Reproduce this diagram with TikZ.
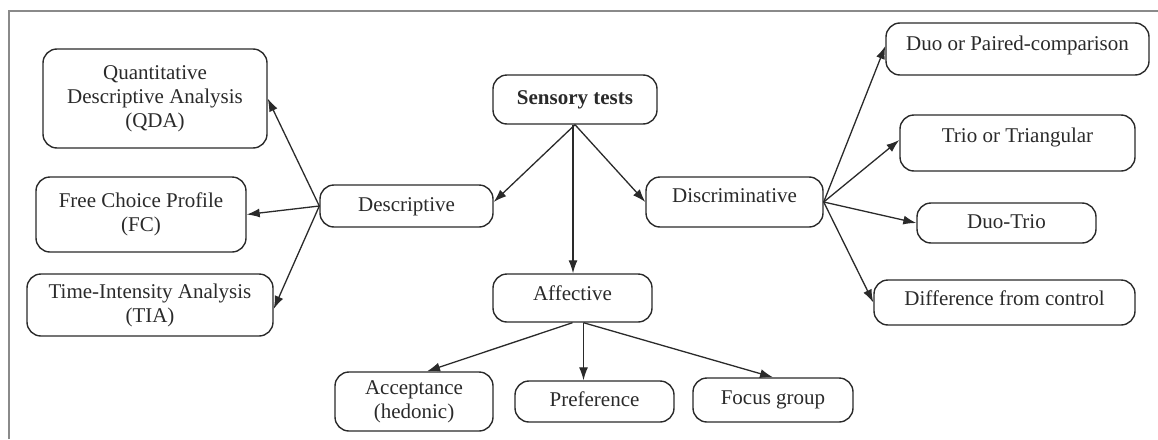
\documentclass[tikz,border=0pt]{standalone}
\usepackage{fontspec}
\setmainfont{Liberation Serif}
\usetikzlibrary{arrows.meta}
\definecolor{ink}{HTML}{2A2A2A}
\definecolor{framec}{HTML}{8A8A8A}
\begin{document}
\begin{tikzpicture}[x=1pt,y=-1pt,
  box/.style={draw=ink, line width=1.4pt, rounded corners=14pt, inner sep=0pt,
              align=center, font=\fontsize{21}{24}\selectfont, text=ink},
  one/.style={text height=14pt, text depth=#1},
  conn/.style={draw=ink, line width=1.3pt, -{Latex[length=13pt,width=9pt]}}]
\useasboundingbox (0,0) rectangle (1158,439);
\draw[framec, line width=1.2pt] (9,439) -- (9,11) -- (1158,11);

% centre
\node[box, one=4pt, minimum width=164pt, minimum height=49pt] (sens) at (575,99.5) {\textbf{Sensory tests}};
\node[box, one=4pt, minimum width=173pt, minimum height=42pt] (desc) at (406.5,206) {Descriptive};
\node[box, one=14pt, minimum width=177pt, minimum height=50pt] (disc) at (734.5,202) {Discriminative};
\node[box, one=10pt, minimum width=159pt, minimum height=48pt] (aff) at (572.5,298) {Affective};

% descriptive branch
\node[box, minimum width=224pt, minimum height=99pt] (qda) at (155,98.5) {Quantitative\\Descriptive Analysis\\(QDA)};
\node[box, minimum width=210pt, minimum height=75pt] (fc) at (141,214.5) {Free Choice Profile\\(FC)};
\node[box, minimum width=246pt, minimum height=62pt] (tia) at (150,305) {Time-Intensity Analysis\\(TIA)};

% affective branch
\node[box, minimum width=158pt, minimum height=59pt] (acc) at (414,401.5) {Acceptance\\(hedonic)};
\node[box, one=4pt, minimum width=159pt, minimum height=41pt] (pref) at (594.5,401.5) {Preference};
\node[box, one=6pt, minimum width=160pt, minimum height=44pt] (focus) at (773,400) {Focus group};

% discriminative branch
\node[box, one=12pt, minimum width=263pt, minimum height=52pt] (duo) at (1017.5,49) {Duo or Paired-comparison};
\node[box, one=16pt, minimum width=235pt, minimum height=56pt] (trio) at (1017.5,143) {Trio or Triangular};
\node[box, one=4pt, minimum width=179pt, minimum height=40pt] (dt) at (1006.5,223) {Duo-Trio};
\node[box, one=9pt, minimum width=261pt, minimum height=45pt] (diff) at (1004.5,302.5) {Difference from control};

% connectors
\draw[conn] (sens.south) -- ([yshift=4pt]desc.east);
\draw[conn] ([xshift=-2pt]sens.south) -- ([xshift=-2pt]sens.south |- aff.north);
\draw[conn] (sens.south) -- (disc.west);

\draw[conn] (desc.west) -- (qda.east);
\draw[conn] (desc.west) -- (fc.east);
\draw[conn] (desc.west) -- ([yshift=-4pt]tia.east);

\draw[conn] (disc.east) -- ([yshift=3pt]duo.west);
\draw[conn] (disc.east) -- ([yshift=3pt]trio.west);
\draw[conn] (disc.east) -- (dt.west);
\draw[conn] (disc.east) -- (diff.west);

\draw[conn] (aff.south) -- ([xshift=13pt]acc.north);
\draw[conn] ([xshift=11pt]aff.south) -- ([xshift=11pt]aff.south |- pref.north);
\draw[conn] ([xshift=11pt]aff.south) -- (focus.north);
\end{tikzpicture}
\end{document}
